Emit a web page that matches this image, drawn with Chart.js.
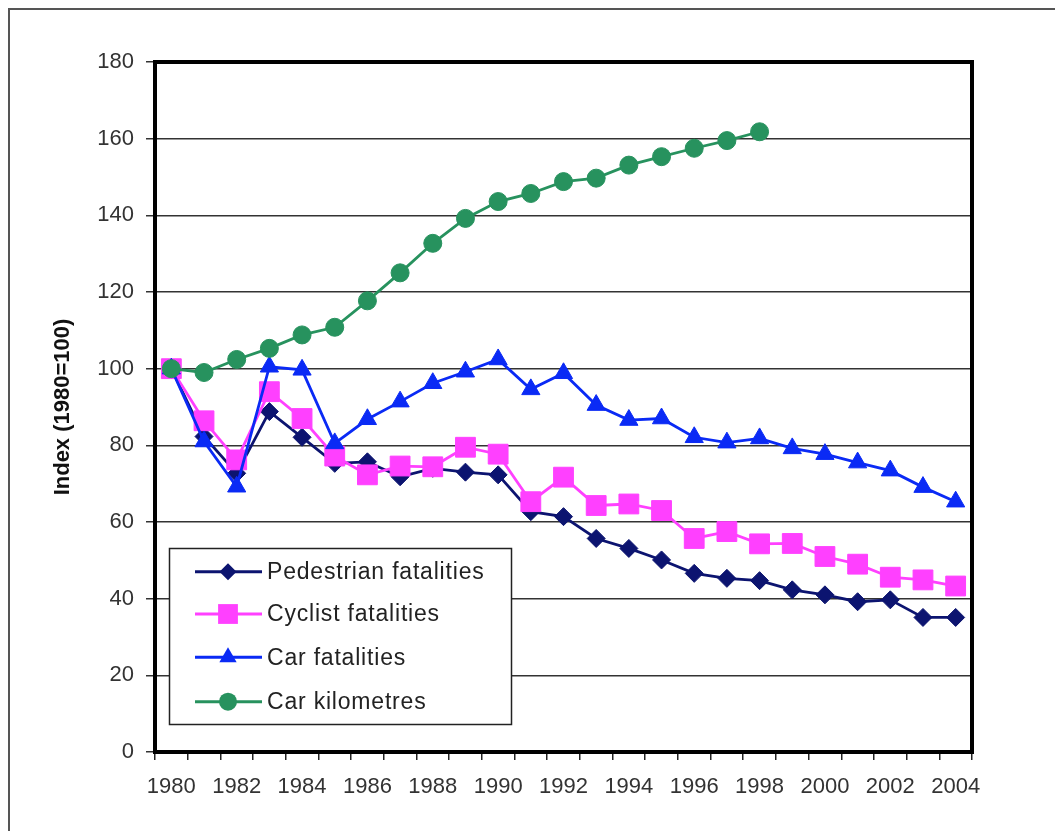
<!DOCTYPE html>
<html lang="en">
<head>
    <meta charset="UTF-8">
    <title>Fatalities and car kilometres index</title>
    <script src="https://cdn.jsdelivr.net/npm/chart.js"></script>
    <style>
        html, body { margin: 0; padding: 0; background: #fff; overflow: hidden; }
        .frame { position: absolute; left: 8px; top: 8px; width: 1200px; height: 1000px;
                 border-top: 2px solid #555; border-left: 2px solid #555; }
        .ctn { position: absolute; left: 0; top: 0; width: 1055px; height: 831px; }
    </style>
</head>
<body>
    <div class="frame"></div>
    <div class="ctn"><canvas id="myChart"></canvas></div>

<script>
    // data (index 1980 = 100)
    const years = ['1980','1981','1982','1983','1984','1985','1986','1987','1988','1989','1990','1991','1992',
                   '1993','1994','1995','1996','1997','1998','1999','2000','2001','2002','2003','2004'];
    const pedestrian = [100, 82.3, 72.7, 88.8, 82.1, 75.3, 75.7, 71.8, 74.0, 73.0, 72.3, 62.7, 61.4,
                        55.7, 53.1, 50.1, 46.6, 45.3, 44.7, 42.3, 41.0, 39.2, 39.7, 35.1, 35.1];
    const cyclist = [100, 86.4, 76.2, 94.0, 87.0, 77.2, 72.3, 74.6, 74.4, 79.5, 77.7, 65.3, 71.7,
                     64.3, 64.7, 63.0, 55.7, 57.5, 54.3, 54.4, 51.0, 49.0, 45.6, 44.9, 43.3];
    const carFatalities = [100, 81.0, 69.2, 100.5, 99.7, 80.5, 86.8, 91.4, 96.2, 99.2, 102.4, 94.6, 98.8,
                           90.5, 86.6, 87.0, 82.1, 80.7, 81.8, 79.2, 77.7, 75.5, 73.4, 69.1, 65.3];
    const carKm = [100, 99.0, 102.4, 105.3, 108.8, 110.8, 117.7, 125.0, 132.7, 139.2, 143.6, 145.7, 148.8,
                   149.7, 153.1, 155.3, 157.5, 159.5, 161.8, null, null, null, null, null, null];
    const yTicks = [0, 20, 40, 60, 80, 100, 120, 140, 160, 180];

    const FONT = "'Liberation Sans', Arial, sans-serif";

    const series = [
        { label: 'Pedestrian fatalities', data: pedestrian, color: '#0c1470', shape: 'rectRot', r: 9, lr: 8.5 },
        { label: 'Cyclist fatalities', data: cyclist, color: '#ff40ff', shape: 'rect', r: 14, lr: 14 },
        { label: 'Car fatalities', data: carFatalities, color: '#0a2af5', shape: 'triangle', r: 10.5, lr: 10 },
        { label: 'Car kilometres', data: carKm, color: '#27925e', shape: 'circle', r: 9, lr: 9 }
    ];

    function marker(ctx, shape, x, y, r) {
        ctx.beginPath();
        if (shape === 'rectRot') {
            ctx.moveTo(x, y - r); ctx.lineTo(x + r, y); ctx.lineTo(x, y + r); ctx.lineTo(x - r, y); ctx.closePath();
        } else if (shape === 'rect') {
            let s = r * Math.SQRT1_2;
            ctx.rect(x - s, y - s, 2 * s, 2 * s);
        } else if (shape === 'triangle') {
            ctx.moveTo(x, y - r); ctx.lineTo(x + r * 0.866, y + r / 2); ctx.lineTo(x - r * 0.866, y + r / 2); ctx.closePath();
        } else {
            ctx.arc(x, y, r, 0, Math.PI * 2);
        }
        ctx.fill();
    }

    // plot frame + legend box inside the plot
    const frameAndLegend = {
        id: 'frameAndLegend',
        afterDatasetsDraw(chart) {
            const ctx = chart.ctx;
            const a = chart.chartArea;
            ctx.save();
            ctx.strokeStyle = '#000';
            ctx.lineWidth = 4;
            ctx.strokeRect(a.left, a.top, a.right - a.left, a.bottom - a.top);

            // legend
            let bx = 169.5, by = 548.5, bw = 342, bh = 176;
            ctx.fillStyle = '#fff';
            ctx.fillRect(bx, by, bw, bh);
            ctx.lineWidth = 1.5;
            ctx.strokeStyle = '#222';
            ctx.strokeRect(bx, by, bw, bh);

            const rows = [571.7, 614, 657.3, 701.7];
            ctx.font = '23px ' + FONT;
            ctx.textBaseline = 'middle';
            ctx.textAlign = 'left';
            if ('letterSpacing' in ctx) ctx.letterSpacing = '0.8px';
            series.forEach((s, i) => {
                let y = rows[i];
                ctx.strokeStyle = s.color;
                ctx.lineWidth = 3;
                ctx.beginPath();
                ctx.moveTo(195, y); ctx.lineTo(262, y);
                ctx.stroke();
                ctx.fillStyle = s.color;
                marker(ctx, s.shape, 228, y, s.lr);
                ctx.fillStyle = '#222';
                ctx.fillText(s.label, 267, y + 1);
            });
            ctx.restore();
        }
    };

    (function DrawChart() {
        var ctx = document.getElementById('myChart').getContext('2d');

        var datasets = series.map((s, i) => ({
            label: s.label,
            data: s.data,
            borderColor: s.color,
            backgroundColor: s.color,
            borderWidth: 2.8,
            pointStyle: s.shape,
            pointRadius: s.r,
            pointBackgroundColor: s.color,
            pointBorderColor: s.color,
            pointBorderWidth: 1,
            tension: 0,
            spanGaps: false,
            order: series.length - i
        }));

        var myChart = new Chart(ctx, {
            type: 'line',
            data: { labels: years, datasets: datasets },
            plugins: [frameAndLegend],
            options: {
                responsive: true,
                maintainAspectRatio: false,
                animation: false,
                devicePixelRatio: 1,
                layout: { padding: { top: 62, right: 83, left: 0, bottom: 0 } },
                plugins: {
                    legend: { display: false },
                    tooltip: { enabled: false }
                },
                scales: {
                    x: {
                        offset: true,
                        grid: { offset: true, drawOnChartArea: false, drawTicks: true, tickLength: 8,
                                color: '#222', lineWidth: 1.5 },
                        border: { display: false },
                        ticks: {
                            autoSkip: false, maxRotation: 0, minRotation: 0, padding: 14,
                            color: '#333', font: { size: 22, family: FONT },
                            callback: function (v, i) { return i % 2 === 0 ? years[i] : ''; }
                        },
                        afterFit: function (s) { s.height = 79; }
                    },
                    y: {
                        min: 0, max: 180,
                        afterBuildTicks: function (s) { s.ticks = yTicks.map(v => ({ value: v })); },
                        grid: { color: '#333', lineWidth: 1.5, tickLength: 9 },
                        border: { display: false },
                        ticks: { padding: 12, color: '#333', font: { size: 22, family: FONT } },
                        title: {
                            display: true, text: 'Index (1980=100)', color: '#111',
                            font: { size: 22, weight: 'bold', family: FONT },
                            padding: { top: 50, bottom: 0 }
                        },
                        afterFit: function (s) { s.width = 155; }
                    }
                }
            }
        });
    })()
</script>
</body>
</html>
